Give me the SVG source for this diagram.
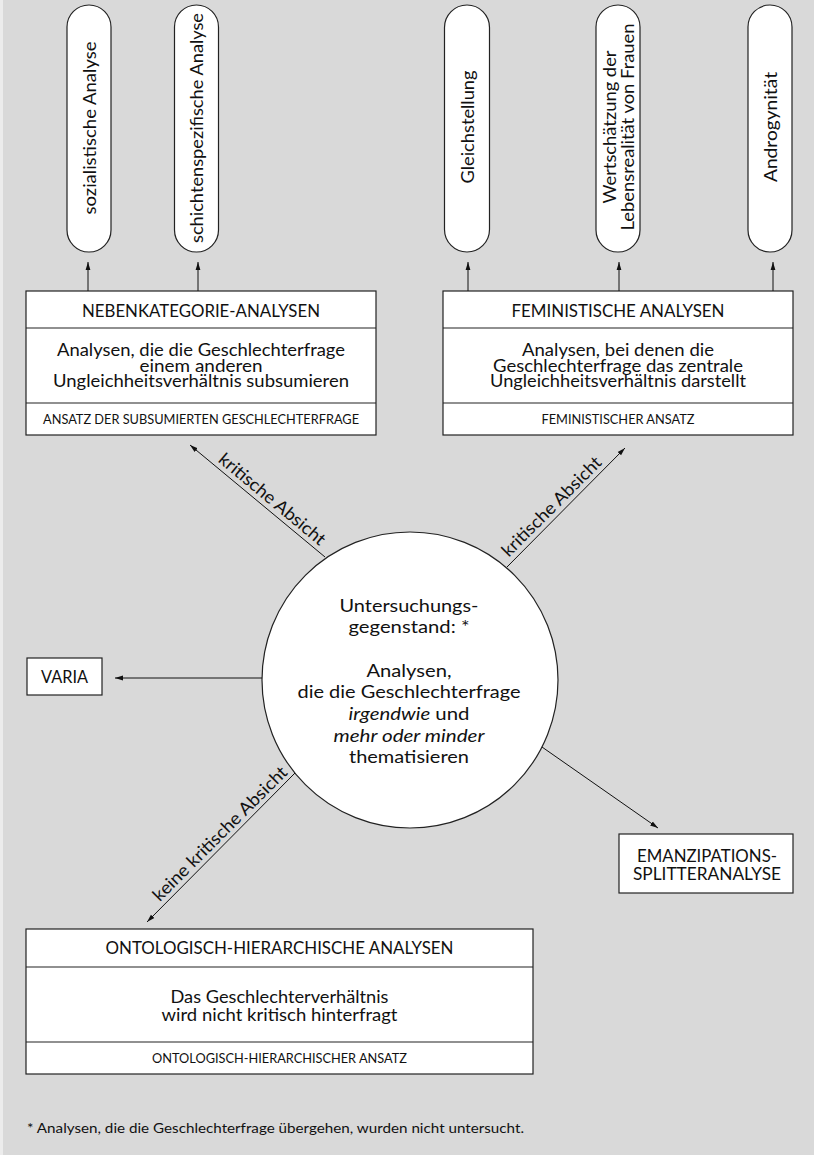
<svg xmlns="http://www.w3.org/2000/svg" width="814" height="1155" viewBox="0 0 814 1155">
<style>
text{font-family:Lato,"Noto Sans","Liberation Sans",sans-serif;fill:#111}
.box{fill:#fff;stroke:#222;stroke-width:1.2}
.div{stroke:#222;stroke-width:1.2}
.pill{fill:#fff;stroke:#222;stroke-width:1.2}
.hd{font-size:16.5px;text-anchor:middle}
.bd{font-size:17.5px;text-anchor:middle}
.ft{font-size:13px;text-anchor:middle}
.pt{font-size:18px;text-anchor:middle}
.lb{font-size:17.5px;text-anchor:middle}
.con line{stroke:#111;stroke-width:1;marker-end:url(#ah)}
</style>
<defs>
<marker id="ah" viewBox="0 0 8 6" refX="8" refY="3" markerWidth="8" markerHeight="6" markerUnits="userSpaceOnUse" orient="auto"><path d="M0,0.6 L8,3 L0,5.4 z" fill="#111"/></marker>
</defs>
<rect x="0" y="0" width="814" height="1155" fill="#ececec"/>
<rect x="3" y="0" width="811" height="1155" fill="#d9d9d9"/>

<g id="pill-sozialistisch"><rect class="pill" x="67" y="5" width="44" height="247" rx="22"/><text class="pt" transform="translate(95.5,128) rotate(-90)" textLength="173" lengthAdjust="spacingAndGlyphs">sozialistische Analyse</text></g>
<g id="pill-schicht"><rect class="pill" x="174.5" y="5" width="44" height="247" rx="22"/><text class="pt" transform="translate(203,128) rotate(-90)" textLength="230" lengthAdjust="spacingAndGlyphs">schichtenspezifische Analyse</text></g>
<g id="pill-gleich"><rect class="pill" x="444.5" y="5" width="45" height="247" rx="22.5"/><text class="pt" transform="translate(473.5,127) rotate(-90)" textLength="113" lengthAdjust="spacingAndGlyphs">Gleichstellung</text></g>
<g id="pill-wert"><rect class="pill" x="596" y="5" width="44" height="247" rx="22"/><text class="pt" transform="translate(616,127) rotate(-90)" textLength="153" lengthAdjust="spacingAndGlyphs">Wertschätzung der</text><text class="pt" transform="translate(633.5,127) rotate(-90)" textLength="207" lengthAdjust="spacingAndGlyphs">Lebensrealität von Frauen</text></g>
<g id="pill-andro"><rect class="pill" x="748" y="5" width="44" height="247" rx="22"/><text class="pt" transform="translate(776.5,127) rotate(-90)" textLength="110" lengthAdjust="spacingAndGlyphs">Androgynität</text></g>

<g id="box-neben">
<rect class="box" x="26" y="291" width="350" height="144"/>
<line class="div" x1="26" y1="328" x2="376" y2="328"/>
<line class="div" x1="26" y1="403" x2="376" y2="403"/>
<text class="hd" x="201" y="317" textLength="238" lengthAdjust="spacingAndGlyphs">NEBENKATEGORIE-ANALYSEN</text>
<text class="bd" x="201" y="356" textLength="288" lengthAdjust="spacingAndGlyphs">Analysen, die die Geschlechterfrage</text>
<text class="bd" x="201" y="371.5" textLength="123" lengthAdjust="spacingAndGlyphs">einem anderen</text>
<text class="bd" x="201" y="387" textLength="296" lengthAdjust="spacingAndGlyphs">Ungleichheitsverhältnis subsumieren</text>
<text class="ft" x="201" y="424" textLength="316" lengthAdjust="spacingAndGlyphs">ANSATZ DER SUBSUMIERTEN GESCHLECHTERFRAGE</text>
</g>

<g id="box-fem">
<rect class="box" x="443" y="291" width="350" height="144"/>
<line class="div" x1="443" y1="328" x2="793" y2="328"/>
<line class="div" x1="443" y1="403" x2="793" y2="403"/>
<text class="hd" x="618" y="317" textLength="213" lengthAdjust="spacingAndGlyphs">FEMINISTISCHE ANALYSEN</text>
<text class="bd" x="618" y="356" textLength="192" lengthAdjust="spacingAndGlyphs">Analysen, bei denen die</text>
<text class="bd" x="618" y="371.5" textLength="250" lengthAdjust="spacingAndGlyphs">Geschlechterfrage das zentrale</text>
<text class="bd" x="618" y="387" textLength="256" lengthAdjust="spacingAndGlyphs">Ungleichheitsverhältnis darstellt</text>
<text class="ft" x="618" y="424" textLength="153" lengthAdjust="spacingAndGlyphs">FEMINISTISCHER ANSATZ</text>
</g>

<g id="circle-center">
<circle cx="410" cy="680" r="148" fill="#fff" stroke="#222" stroke-width="1.2"/>
<text class="bd" x="409" y="611.7" textLength="139" lengthAdjust="spacingAndGlyphs">Untersuchungs-</text>
<text class="bd" x="409" y="633.3" textLength="121" lengthAdjust="spacingAndGlyphs">gegenstand: *</text>
<text class="bd" x="409" y="676.7" textLength="85" lengthAdjust="spacingAndGlyphs">Analysen,</text>
<text class="bd" x="409" y="698.3" textLength="223" lengthAdjust="spacingAndGlyphs">die die Geschlechterfrage</text>
<text class="bd" x="409" y="720" textLength="121" lengthAdjust="spacingAndGlyphs"><tspan font-style="italic">irgendwie</tspan> und</text>
<text class="bd" x="409" y="741.7" font-style="italic" textLength="151" lengthAdjust="spacingAndGlyphs">mehr oder minder</text>
<text class="bd" x="409" y="763.3" textLength="120" lengthAdjust="spacingAndGlyphs">thematisieren</text>
</g>

<g id="box-varia">
<rect class="box" x="27" y="658" width="75" height="37"/>
<text class="bd" x="64.5" y="683" textLength="47" lengthAdjust="spacingAndGlyphs">VARIA</text>
</g>

<g id="box-emanz">
<rect class="box" x="619" y="834" width="174" height="59"/>
<text class="bd" x="707" y="862" textLength="140" lengthAdjust="spacingAndGlyphs">EMANZIPATIONS-</text>
<text class="bd" x="707" y="880" textLength="148" lengthAdjust="spacingAndGlyphs">SPLITTERANALYSE</text>
</g>

<g id="box-onto">
<rect class="box" x="26" y="929" width="507" height="145"/>
<line class="div" x1="26" y1="967" x2="533" y2="967"/>
<line class="div" x1="26" y1="1042" x2="533" y2="1042"/>
<text class="hd" x="279.5" y="954" textLength="348" lengthAdjust="spacingAndGlyphs">ONTOLOGISCH-HIERARCHISCHE ANALYSEN</text>
<text class="bd" x="279.5" y="1003" textLength="218" lengthAdjust="spacingAndGlyphs">Das Geschlechterverhältnis</text>
<text class="bd" x="279.5" y="1021" textLength="236" lengthAdjust="spacingAndGlyphs">wird nicht kritisch hinterfragt</text>
<text class="ft" x="279.5" y="1063" textLength="255" lengthAdjust="spacingAndGlyphs">ONTOLOGISCH-HIERARCHISCHER ANSATZ</text>
</g>

<g id="connectors" class="con">
<line x1="88" y1="291" x2="88" y2="262"/>
<line x1="198" y1="291" x2="198" y2="262"/>
<line x1="468" y1="291" x2="468" y2="262"/>
<line x1="619" y1="291" x2="619" y2="262"/>
<line x1="773" y1="291" x2="773" y2="262"/>
<line x1="325" y1="557" x2="190" y2="445"/>
<line x1="507" y1="567" x2="625" y2="448"/>
<line x1="262" y1="678" x2="115" y2="678"/>
<line x1="542" y1="747" x2="658" y2="828"/>
<line x1="295" y1="773" x2="147" y2="922"/>
<text class="lb" transform="translate(268.5,503.7) rotate(39.7)" textLength="133" lengthAdjust="spacingAndGlyphs">kritische Absicht</text>
<text class="lb" transform="translate(555.7,510.7) rotate(-45)" textLength="133" lengthAdjust="spacingAndGlyphs">kritische Absicht</text>
<text class="lb" transform="translate(224.2,837.8) rotate(-45)" textLength="182" lengthAdjust="spacingAndGlyphs">keine kritische Absicht</text>
</g>

<text x="27" y="1133" font-size="14" textLength="497" lengthAdjust="spacingAndGlyphs">* Analysen, die die Geschlechterfrage übergehen, wurden nicht untersucht.</text>
</svg>
